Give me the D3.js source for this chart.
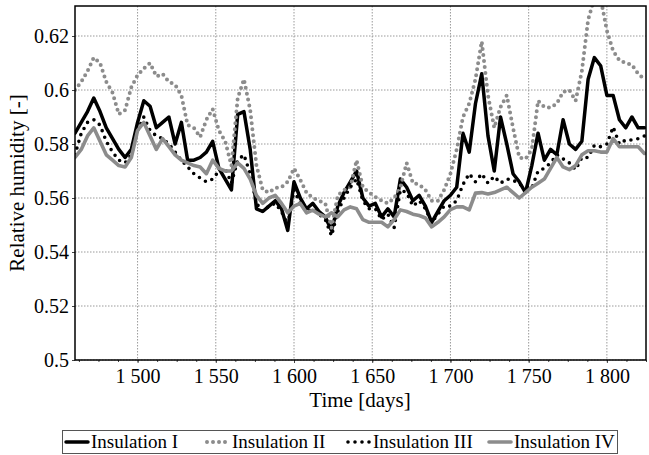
<!DOCTYPE html>
<html lang="en">
<head>
    <meta charset="UTF-8">
    <title>Relative humidity</title>
    <script src="https://d3js.org/d3.v7.min.js"></script>
    <style>
        body { margin: 0; background: #fff; }
        text { font-family: "Liberation Serif", "DejaVu Serif", serif; fill: #000; }
    </style>
</head>
<body>
<div class="canvas"></div>
<script>

  // days, every 4 days
  const days = d3.range(1460, 1825, 4)

  const insulationI = [
    0.584, 0.588, 0.592, 0.597, 0.592, 0.586, 0.582, 0.578, 0.575, 0.578,
    0.588, 0.596, 0.594, 0.586, 0.588, 0.590, 0.580, 0.588, 0.574, 0.574,
    0.575, 0.577, 0.581, 0.571, 0.567, 0.563, 0.591, 0.592, 0.578, 0.556,
    0.555, 0.557, 0.559, 0.556, 0.548, 0.566, 0.560, 0.556, 0.558, 0.555,
    0.553, 0.548, 0.557, 0.562, 0.566, 0.570, 0.560, 0.557, 0.558, 0.553,
    0.556, 0.553, 0.567, 0.564, 0.559, 0.561, 0.557, 0.551, 0.555, 0.559,
    0.561, 0.564, 0.584, 0.577, 0.595, 0.606, 0.583, 0.570, 0.590, 0.580,
    0.569, 0.566, 0.562, 0.572, 0.584, 0.574, 0.578, 0.576, 0.589, 0.580,
    0.578, 0.581, 0.604, 0.612, 0.609, 0.598, 0.598, 0.589, 0.586, 0.590,
    0.586, 0.586
  ]

  const insulationII = [
    0.600, 0.603, 0.607, 0.612, 0.610, 0.603, 0.599, 0.591, 0.5925, 0.601,
    0.6055, 0.608, 0.610, 0.605, 0.606, 0.603, 0.602, 0.598, 0.587, 0.586,
    0.5826, 0.589, 0.593, 0.585, 0.581, 0.572, 0.597, 0.604, 0.5926, 0.572,
    0.563, 0.562, 0.5637, 0.564, 0.566, 0.571, 0.5667, 0.562, 0.560, 0.559,
    0.558, 0.549, 0.561, 0.563, 0.564, 0.574, 0.564, 0.562, 0.5604, 0.559,
    0.558, 0.560, 0.564, 0.573, 0.5655, 0.565, 0.563, 0.559, 0.559, 0.563,
    0.569, 0.578, 0.590, 0.595, 0.604, 0.618, 0.598, 0.586, 0.5937, 0.598,
    0.586, 0.575, 0.5745, 0.578, 0.596, 0.5937, 0.5935, 0.595, 0.5993, 0.600,
    0.596, 0.607, 0.626, 0.634, 0.634, 0.622, 0.6145, 0.611, 0.610, 0.6093,
    0.606, 0.604
  ]

  const insulationIII = [
    0.576, 0.584, 0.588, 0.589, 0.587, 0.581, 0.577, 0.574, 0.573, 0.576,
    0.585, 0.590, 0.585, 0.583, 0.582, 0.580, 0.577, 0.574, 0.5715, 0.569,
    0.5674, 0.566, 0.567, 0.570, 0.571, 0.5655, 0.574, 0.576, 0.569, 0.558,
    0.555, 0.557, 0.558, 0.555, 0.550, 0.563, 0.558, 0.555, 0.556, 0.554,
    0.552, 0.546, 0.555, 0.560, 0.564, 0.567, 0.559, 0.556, 0.556, 0.552,
    0.554, 0.549, 0.563, 0.562, 0.557, 0.559, 0.556, 0.551, 0.554, 0.557,
    0.557, 0.559, 0.565, 0.569, 0.566, 0.569, 0.5655, 0.568, 0.5655, 0.567,
    0.5667, 0.565, 0.5645, 0.5637, 0.570, 0.571, 0.573, 0.576, 0.5745, 0.573,
    0.5705, 0.575, 0.575, 0.5795, 0.579, 0.580, 0.5863, 0.580, 0.5815, 0.5815,
    0.582, 0.583
  ]

  const insulationIV = [
    0.575, 0.578, 0.583, 0.586, 0.581, 0.576, 0.574, 0.572, 0.5715, 0.575,
    0.585, 0.588, 0.583, 0.578, 0.582, 0.579, 0.576, 0.574, 0.573, 0.572,
    0.5715, 0.569, 0.574, 0.571, 0.570, 0.570, 0.573, 0.571, 0.567, 0.561,
    0.558, 0.560, 0.561, 0.558, 0.5545, 0.557, 0.558, 0.5545, 0.5555, 0.554,
    0.553, 0.5545, 0.553, 0.5556, 0.5567, 0.556, 0.552, 0.551, 0.551, 0.551,
    0.5493, 0.552, 0.5556, 0.555, 0.554, 0.5535, 0.5526, 0.5493, 0.551, 0.553,
    0.5557, 0.5567, 0.5567, 0.5556, 0.5618, 0.562, 0.5615, 0.562, 0.563, 0.564,
    0.562, 0.560, 0.562, 0.564, 0.5655, 0.567, 0.571, 0.575, 0.5715, 0.5705,
    0.572, 0.576, 0.5775, 0.5775, 0.577, 0.577, 0.582, 0.579, 0.579, 0.579,
    0.579, 0.5765
  ]

  const seriesNames = ['Insulation I', 'Insulation II', 'Insulation III', 'Insulation IV']
  const xTicks = [1500, 1550, 1600, 1650, 1700, 1750, 1800]
  const yTicks = [0.5, 0.52, 0.54, 0.56, 0.58, 0.6, 0.62]

  const width = 649
  const height = 455
  let [mt, mb, mr, ml] = [6, 95, 3, 75]

  const graphWidth = width - ml - mr
  const graphHeight = height - mt - mb

  const svg = d3.select('.canvas')
    .append('svg')
    .attr('width', width)
    .attr('height', height)

  const graph = svg.append('g')
    .attr('transform', `translate(${ml}, ${mt})`)

  const x = d3.scaleLinear()
    .domain([1460, 1825])
    .range([0, graphWidth])

  const y = d3.scaleLinear()
    .domain([0.5, 0.5 + graphHeight / 2700])
    .range([graphHeight, 0])

  // grid
  const grid = graph.append('g')
  grid.selectAll('.vgrid')
    .data(xTicks)
    .enter()
    .append('line')
    .attr('x1', d => x(d)).attr('x2', d => x(d))
    .attr('y1', 0).attr('y2', graphHeight)
    .attr('stroke', '#9a9a9a')
    .attr('stroke-dasharray', '1.5,1.5')
  grid.selectAll('.hgrid')
    .data(yTicks)
    .enter()
    .append('line')
    .attr('x1', 0).attr('x2', graphWidth)
    .attr('y1', d => y(d)).attr('y2', d => y(d))
    .attr('stroke', '#9a9a9a')
    .attr('stroke-dasharray', '1.5,1.5')

  // axes
  const fmtX = d => String(d).replace(/\B(?=(\d{3})+(?!\d))/g, ' ')
  const xAxis = d3.axisBottom(x).tickValues(xTicks).tickFormat(fmtX).tickSize(3).tickPadding(6)
  const xMinor = d3.axisBottom(x).tickValues(d3.range(1462.5, 1826, 12.5)).tickFormat('').tickSize(2)
  const yAxis = d3.axisLeft(y).tickValues(yTicks).tickFormat(d => String(+d.toFixed(2))).tickSize(3).tickPadding(3)

  const xAxisG = graph.append('g')
    .attr('transform', `translate(0, ${graphHeight})`)
    .call(xAxis)
  graph.append('g')
    .attr('transform', `translate(0, ${graphHeight})`)
    .call(xMinor)
    .select('.domain').remove()
  const yAxisG = graph.append('g').call(yAxis)

  ;[xAxisG, yAxisG].forEach(g => {
    g.selectAll('text').style('font-size', '20px').attr('fill', '#000')
    g.select('.domain').remove()
  })
  graph.selectAll('.tick line').attr('stroke', '#444')

  // lines
  svg.append('clipPath').attr('id', 'plotclip')
    .append('rect').attr('width', graphWidth).attr('height', graphHeight)

  const seriesValues = [insulationI, insulationII, insulationIII, insulationIV]
  const styles = [
    { color: '#000', width: 3.5, dash: null },
    { color: '#8c8c8c', width: 4, dash: '0,6' },
    { color: '#000', width: 3.6, dash: '0,7' },
    { color: '#8c8c8c', width: 3.6, dash: null }
  ]

  const line = d3.line()
    .x((d, i) => x(days[i]))
    .y(d => y(d))

  const lines = graph.append('g').attr('clip-path', 'url(#plotclip)')
  seriesValues.forEach((vals, i) => {
    lines.append('path')
      .attr('fill', 'none')
      .attr('stroke', styles[i].color)
      .attr('stroke-width', styles[i].width)
      .attr('stroke-linejoin', 'round')
      .attr('stroke-linecap', 'round')
      .attr('stroke-dasharray', styles[i].dash)
      .attr('d', line(vals))
  })

  // frame
  graph.append('rect')
    .attr('width', graphWidth)
    .attr('height', graphHeight)
    .attr('fill', 'none')
    .attr('stroke', '#000')
    .attr('stroke-width', 1.5)

  // titles
  svg.append('text')
    .attr('x', 360)
    .attr('y', 407)
    .attr('text-anchor', 'middle')
    .style('font-size', '21px')
    .text('Time [days]')

  svg.append('text')
    .attr('transform', 'translate(24, 183) rotate(-90)')
    .attr('text-anchor', 'middle')
    .style('font-size', '21px')
    .text('Relative humidity [-]')

  // legend
  const legend = svg.append('g')
  legend.append('rect')
    .attr('x', 62.5).attr('y', 430.5)
    .attr('width', 555).attr('height', 23)
    .attr('fill', '#fff')
    .attr('stroke', '#555')
  const legendX = [64, 205, 346, 487]
  seriesNames.forEach((name, i) => {
    legend.append('line')
      .attr('x1', legendX[i] + 2).attr('x2', legendX[i] + 24)
      .attr('y1', 442).attr('y2', 442)
      .attr('stroke', styles[i].color)
      .attr('stroke-width', styles[i].width)
      .attr('stroke-linecap', 'round')
      .attr('stroke-dasharray', styles[i].dash)
    legend.append('text')
      .attr('x', legendX[i] + 27)
      .attr('y', 448)
      .style('font-size', '19px')
      .text(name)
  })

</script>
</body>
</html>
